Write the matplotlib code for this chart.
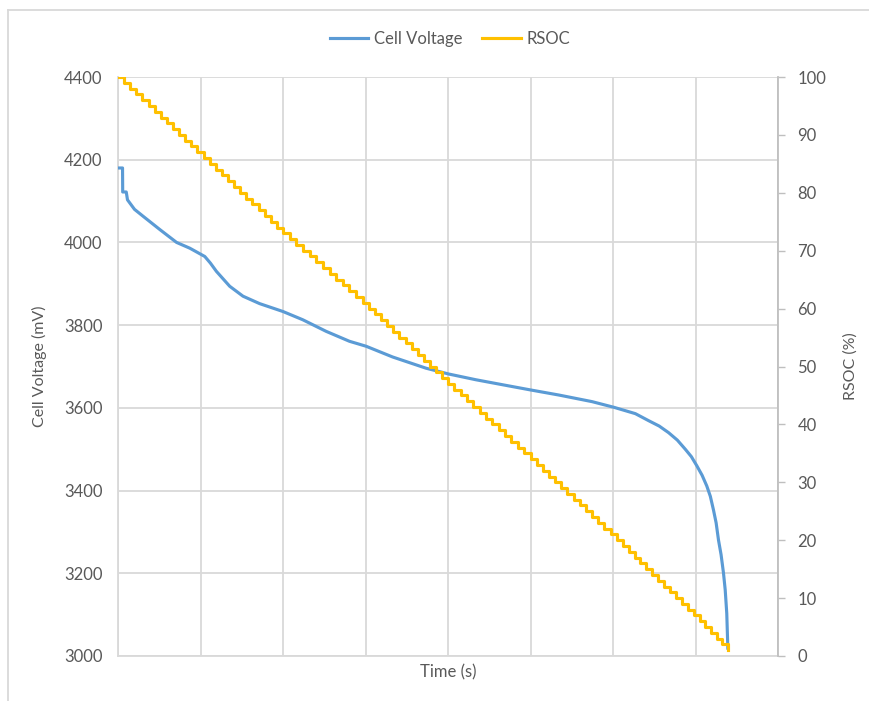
import matplotlib
matplotlib.use("Agg")
import matplotlib.pyplot as plt
from matplotlib.lines import Line2D

plt.rcParams['font.family'] = ['Lato', 'DejaVu Sans']

# ---- data ----
# Cell voltage samples: time (s) and voltage (mV)
volt_time = [0, 55, 57, 100, 115, 200, 306, 508, 710, 871, 1052, 1120, 1193, 1354, 1515,
             1717, 1999, 2240, 2523, 2805, 3007, 3329, 3732, 4005, 4337, 4739, 5009,
             5344, 5747, 6017, 6271, 6432, 6560, 6674, 6780, 6876, 6950, 7016, 7080,
             7137, 7180, 7218, 7250, 7279, 7310, 7339, 7360, 7379, 7392]
volt_mv = [4180, 4180, 4122, 4122, 4103, 4080, 4063, 4031, 4000, 3986, 3966, 3950, 3930,
           3894, 3870, 3852, 3833, 3813, 3785, 3761, 3749, 3723, 3696, 3682, 3668, 3653,
           3643, 3631, 3615, 3601, 3586, 3569, 3556, 3540, 3522, 3500, 3482, 3460,
           3437, 3411, 3386, 3353, 3322, 3280, 3245, 3201, 3160, 3103, 3019]

# RSOC: time (s) at which each level starts, and the level (%)
rsoc_time = [0, 74, 148, 222, 296, 370, 444, 519, 593, 667, 741, 815, 889, 963,
             1037, 1111, 1185, 1259, 1333, 1407, 1481, 1556, 1630, 1704, 1778, 1852,
             1926, 2000, 2081, 2161, 2242, 2323, 2403, 2484, 2565, 2645, 2726, 2806,
             2887, 2968, 3044, 3118, 3191, 3265, 3338, 3412, 3485, 3559, 3632, 3706,
             3779, 3853, 3926, 4000, 4077, 4154, 4231, 4308, 4385, 4462, 4538, 4615,
             4692, 4769, 4846, 4923, 5000, 5075, 5149, 5224, 5299, 5373, 5448, 5522,
             5597, 5672, 5746, 5821, 5896, 5970, 6043, 6116, 6188, 6261, 6333, 6406,
             6478, 6551, 6623, 6696, 6768, 6841, 6913, 6986, 7054, 7121, 7188, 7255,
             7322, 7392]
rsoc_pct = [100, 99, 98, 97, 96, 95, 94, 93, 92, 91, 90, 89, 88, 87, 86, 85, 84, 83,
            82, 81, 80, 79, 78, 77, 76, 75, 74, 73, 72, 71, 70, 69, 68, 67, 66, 65, 64,
            63, 62, 61, 60, 59, 58, 57, 56, 55, 54, 53, 52, 51, 50, 49, 48, 47, 46, 45,
            44, 43, 42, 41, 40, 39, 38, 37, 36, 35, 34, 33, 32, 31, 30, 29, 28, 27, 26,
            25, 24, 23, 22, 21, 20, 19, 18, 17, 16, 15, 14, 13, 12, 11, 10, 9, 8, 7, 6,
            5, 4, 3, 2, 1]

volt_ticks = [3000, 3200, 3400, 3600, 3800, 4000, 4200, 4400]
rsoc_ticks = [0, 10, 20, 30, 40, 50, 60, 70, 80, 90, 100]
time_grid = [0, 1000, 2000, 3000, 4000, 5000, 6000, 7000, 8000]

BLUE = '#5B9BD5'
YELLOW = '#FFC000'
TXT = '#595959'
GRID = '#D9D9D9'

W, H = 869, 701
fig = plt.figure(figsize=(W / 100, H / 100), dpi=100)
L, R, T, B = 118, 778, 77, 656
ax = fig.add_axes([L / W, 1 - B / H, (R - L) / W, (B - T) / H])
ax2 = ax.twinx()

# outer chart border (top and left visible)
fig.add_artist(Line2D([8 / W, 1], [1 - 10 / H, 1 - 10 / H], color=GRID, lw=1.3,
                      transform=fig.transFigure))
fig.add_artist(Line2D([8 / W, 8 / W], [0, 1 - 10 / H], color=GRID, lw=1.3,
                      transform=fig.transFigure))

ax.set_xlim(0, 8000)
ax.set_ylim(3000, 4400)
ax2.set_ylim(0, 100)

ax.set_xticks(time_grid)
ax.set_xticklabels([])
ax.set_yticks(volt_ticks)
ax.set_yticklabels([str(v) for v in volt_ticks])
ax2.set_yticks(rsoc_ticks)
ax2.set_yticklabels([str(v) for v in rsoc_ticks])

ax.grid(True, color=GRID, lw=1.3)
ax.set_axisbelow(True)
ax.tick_params(axis='x', length=0)
ax.tick_params(axis='y', length=0, pad=11, labelsize=12, labelcolor=TXT)
ax2.tick_params(axis='y', length=5, width=1, color='#BFBFBF', pad=9,
                labelsize=12, labelcolor=TXT)

ax.spines['top'].set_visible(False)
ax2.spines['top'].set_visible(False)
ax.spines['left'].set_color(GRID)
ax.spines['bottom'].set_color(GRID)
ax.spines['left'].set_linewidth(1.3)
ax.spines['bottom'].set_linewidth(1.3)
ax2.spines['left'].set_visible(False)
ax2.spines['bottom'].set_visible(False)
ax.spines['right'].set_visible(False)
ax2.spines['right'].set_color('#BFBFBF')
ax2.spines['right'].set_linewidth(1.3)

l1, = ax.plot(volt_time, volt_mv, color=BLUE, lw=2.25, label='Cell Voltage',
              solid_joinstyle='round', zorder=3)
l2, = ax2.plot(rsoc_time, rsoc_pct, color=YELLOW, lw=2.25, drawstyle='steps-post',
               label='RSOC', zorder=3)

ax.set_ylabel('Cell Voltage (mV)', fontsize=11.5, color=TXT)
ax.yaxis.set_label_coords((47.5 - L) / (R - L), 0.5)
ax2.set_ylabel('RSOC (%)', fontsize=11.5, color=TXT)
ax2.yaxis.set_label_coords((843.7 - L) / (R - L), 0.5)
ax.set_xlabel('Time (s)', fontsize=12, color=TXT, va='center')
ax.xaxis.set_label_coords(0.5, (B - 672) / (B - T))

fig.legend([l1, l2], ['Cell Voltage', 'RSOC'], loc='center',
           bbox_to_anchor=(450 / W, 1 - 39 / H), ncol=2, frameon=False,
           fontsize=12, labelcolor=TXT, handlelength=2.3, columnspacing=1.2,
           handletextpad=0.35)

fig.savefig('out.png', dpi=100)
